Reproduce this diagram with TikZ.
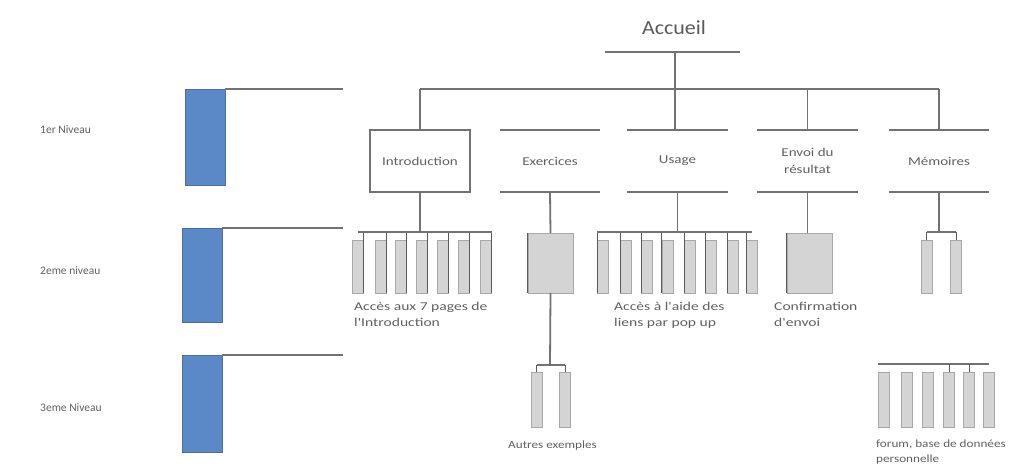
\documentclass[tikz,border=0pt]{standalone}
\usepackage{fontspec}
\setmainfont{Carlito}
\newfontfamily\wideA[FakeStretch=1.3]{Carlito}
\newfontfamily\wideB[FakeStretch=1.2]{Carlito}
\newfontfamily\wideC[FakeStretch=1.25]{Carlito}
\newfontfamily\wideD[FakeStretch=1.1]{Carlito}
\definecolor{lineC}{HTML}{727272}
\definecolor{darkC}{HTML}{5A5A5A}
\definecolor{barC}{HTML}{D4D4D4}
\definecolor{barE}{HTML}{A8A8A8}
\definecolor{blueC}{HTML}{5B88C6}
\definecolor{blueE}{HTML}{4A6E9E}
\definecolor{txtC}{HTML}{606060}
\begin{document}
\begin{tikzpicture}[x=1pt,y=-1pt,
  ln/.style={draw=lineC, line width=1.8pt},
  dk/.style={draw=darkC, line width=1pt},
  bar/.style={rectangle, fill=barC, draw=barE, line width=0.4pt, minimum width=11pt, minimum height=53pt, inner sep=0pt},
  bigbar/.style={rectangle, fill=barC, draw=barE, line width=0.4pt, minimum width=45pt, minimum height=60pt, inner sep=0pt},
  lvl/.style={rectangle, fill=blueC, draw=blueE, line width=0.6pt, minimum width=40pt, inner sep=0pt},
  lab/.style={font=\wideA\fontsize{12}{16}\selectfont, text=txtC, align=left, anchor=north west, inner sep=0pt},
  lab3/.style={font=\wideB\fontsize{11}{15}\selectfont, text=txtC, align=left, anchor=north west, inner sep=0pt},
  side/.style={font=\fontsize{11.5}{14}\selectfont, text=txtC, anchor=west, inner sep=0pt},
  head/.style={rectangle, minimum width=100pt, minimum height=62pt, inner sep=0pt, font=\wideC\fontsize{12}{17}\selectfont, text=txtC, align=center}
]
\useasboundingbox (0,0) rectangle (1017,474);

% left level markers
\node[side] (t1) at (40,130) {1er Niveau};
\node[side] (t2) at (40,271) {2eme niveau};
\node[side] (t3) at (40,408) {3eme Niveau};
\node[lvl, minimum height=96pt] (lv1) at (205,137) {};
\node[lvl, minimum height=94pt] (lv2) at (202,275) {};
\node[lvl, minimum height=97pt] (lv3) at (202,403.5) {};
\coordinate (e1) at (343,90);
\coordinate (e2) at (343,229);
\coordinate (e3) at (343,356);
\draw[ln] (lv1.north east) -- (lv1.north east -| e1);
\draw[ln] (lv2.north east) -- (lv2.north east -| e2);
\draw[ln] (lv3.north east) -- (lv3.north east -| e3);

% root
\node[font=\wideD\fontsize{20}{22}\selectfont, text=darkC, inner sep=0pt] (acc) at (674,28) {Accueil};
\coordinate (accL) at (605,52);
\coordinate (accR) at (740,52);
\coordinate (accM) at (675,52);
\draw[ln] (accL) -- (accR);

% level 1
\node[head, draw=lineC, line width=1.8pt] (intro) at (420,161) {Introduction};
\node[head] (exo) at (550,161) {Exercices};
\node[head] (usage) at (677.5,161) {Usage};
\node[head] (envoi) at (807.5,161) {Envoi du\\résultat};
\node[head] (mem) at (939,161) {Mémoires};
\foreach \n in {exo,usage,envoi,mem}{
  \draw[ln] (\n.north west) -- (\n.north east);
  \draw[ln] (\n.south west) -- (\n.south east);
}
\coordinate (topbus) at (675,89);
\draw[ln] (intro.north |- topbus) -- (mem.north |- topbus);
\draw[ln] (accM) -- (accM |- usage.north);
\draw[ln] (intro.north |- topbus) -- (intro.north);
\draw[ln] (envoi.north |- topbus) -- (envoi.north);
\draw[ln] (mem.north |- topbus) -- (mem.north);

% level 2 - introduction
\coordinate (bus2) at (421,232);
\foreach \i/\x in {1/357.5,2/381,3/401,4/421.5,5/442.5,6/464,7/486}{
  \node[bar] (ib\i) at (\x,266.5) {};
  \draw[dk] (ib\i.north east |- bus2) -- (ib\i.south east);
}
\draw[ln] (ib1.north |- bus2) -- (ib7.north east |- bus2);
\draw[ln] (intro.south) -- (intro.south |- bus2);

% level 2 - exercices
\node[bigbar] (exb) at (550.5,263) {};
\draw[dk] (exb.north west) -- (exb.south west);
\draw[ln] (exo.south) -- (exb.north);

% level 2 - usage
\foreach \i/\x in {1/603,2/626,3/647,4/667.5,5/690,6/711,7/733,8/752}{
  \node[bar] (ub\i) at (\x,266.5) {};
  \draw[dk] (ub\i.north west |- bus2) -- (ub\i.south west);
}
\draw[ln] (ub1.north west |- bus2) -- (ub8.north |- bus2);
\draw[ln] (usage.south) -- (usage.south |- bus2);

% level 2 - envoi
\node[bigbar] (enb) at (809.5,263) {};
\draw[dk] (enb.north west) -- (enb.south west);
\draw[ln] (envoi.south) -- (envoi.south |- enb.north);

% level 2 - memoires
\node[bar] (mb1) at (926.5,266.5) {};
\node[bar] (mb2) at (956,266.5) {};
\draw[ln] (mb1.north |- bus2) -- (mb2.north |- bus2);
\draw[dk] (mb1.north |- bus2) -- (mb1.north);
\draw[dk] (mb2.north |- bus2) -- (mb2.north);
\draw[ln] (mem.south) -- (mem.south |- bus2);

% level 2 labels
\node[lab] (l21) at (354,302) {Accès aux 7 pages de\\l'Introduction};
\node[lab] (l22) at (614,302) {Accès à l'aide des\\liens par pop up};
\node[lab] (l23) at (774,302) {Confirmation\\d'envoi};

% level 3 - exercices
\coordinate (bus3) at (550,365);
\node[bar, minimum height=55pt] (xb1) at (536.5,399.5) {};
\node[bar, minimum height=55pt] (xb2) at (565,399.5) {};
\draw[ln] (exb.south) -- (bus3);
\draw[ln] (xb1.north |- bus3) -- (xb2.north |- bus3);
\draw[dk] (xb1.north |- bus3) -- (xb1.north);
\draw[dk] (xb2.north |- bus3) -- (xb2.north);
\node[lab3] (l31) at (508,441) {Autres exemples};

% level 3 - memoires
\coordinate (bus4) at (935,364);
\foreach \i/\x in {1/884,2/907,3/927.5,4/949,5/969,6/989}{
  \node[bar, minimum height=55pt] (mm\i) at (\x,400) {};
}
\draw[ln] (mm1.north west |- bus4) -- (mm6.north |- bus4);
\draw[dk] (mm4.north |- bus4) -- (mm4.north);
\draw[dk] (mm5.north |- bus4) -- (mm5.north);
\node[lab3] (l32) at (876,440) {forum, base de données\\personnelle};
\end{tikzpicture}
\end{document}
